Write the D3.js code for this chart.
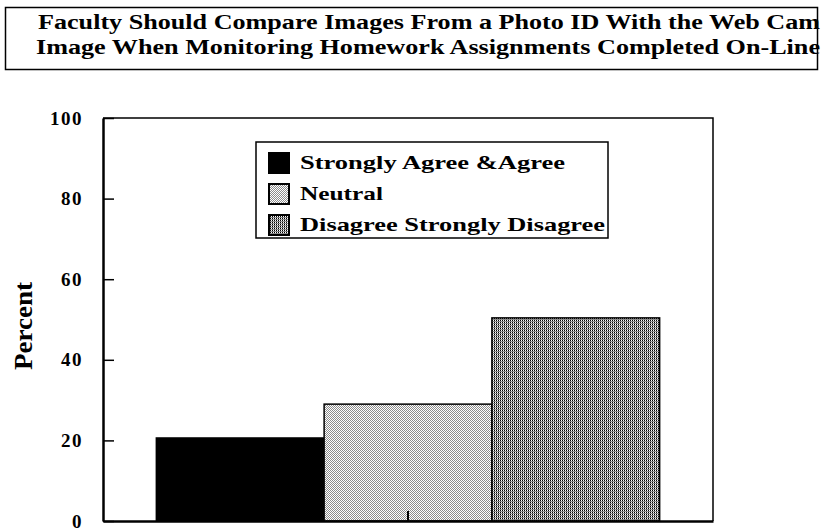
<!DOCTYPE html>
<html>
<head>
<meta charset="utf-8">
<script src="https://cdn.jsdelivr.net/npm/d3@7"></script>
<style>
  html, body { margin: 0; padding: 0; background: #fff; }
  svg { display: block; font-family: "Liberation Serif", "Times New Roman", serif; font-weight: bold; }
</style>
</head>
<body>
<svg id="chart" width="823" height="529"></svg>
<script>
// Survey responses (percent of respondents)
const categories = [""];
const seriesNames = ["Strongly Agree &Agree", "Neutral", "Disagree Strongly Disagree"];
const seriesValues = [20.6, 29.0, 50.4];
const yTicks = [0, 20, 40, 60, 80, 100];
const titleLines = [
  "Faculty Should Compare Images From a Photo ID With the Web Cam",
  "Image When Monitoring Homework Assignments Completed On-Line"
];

const svg = d3.select("#chart");
const defs = svg.append("defs");

// Dither fills for the shaded bars
const light = defs.append("pattern").attr("id", "pat-neutral")
  .attr("patternUnits", "userSpaceOnUse").attr("width", 2).attr("height", 2);
light.append("rect").attr("width", 2).attr("height", 2).attr("fill", "#fff");
light.append("rect").attr("x", 0).attr("y", 0).attr("width", 1).attr("height", 1).attr("fill", "#8c8c8c");
light.append("rect").attr("x", 1).attr("y", 1).attr("width", 1).attr("height", 1).attr("fill", "#8c8c8c");

const dark = defs.append("pattern").attr("id", "pat-disagree")
  .attr("patternUnits", "userSpaceOnUse").attr("width", 2).attr("height", 2);
dark.append("rect").attr("width", 2).attr("height", 2).attr("fill", "#fff");
dark.append("rect").attr("x", 0).attr("y", 0).attr("width", 1).attr("height", 1).attr("fill", "#000");
dark.append("rect").attr("x", 0).attr("y", 1).attr("width", 2).attr("height", 1).attr("fill", "#8a8a8a");

const fills = ["#000", "url(#pat-neutral)", "url(#pat-disagree)"];

// Title box
svg.append("rect")
  .attr("x", 5.5).attr("y", 7.5).attr("width", 812).attr("height", 62)
  .attr("fill", "none").attr("stroke", "#000").attr("stroke-width", 1.5);
const titleX = [38, 36];
const titleLen = [782, 784];
svg.selectAll("text.title").data(titleLines).join("text")
  .attr("class", "title")
  .attr("x", (d, i) => titleX[i])
  .attr("y", (d, i) => 29 + i * 25)
  .attr("font-size", 20)
  .attr("textLength", (d, i) => titleLen[i])
  .attr("lengthAdjust", "spacingAndGlyphs")
  .text(d => d);

// Plot area
const plot = { left: 103, right: 713, top: 118, bottom: 521 };

const y = d3.scaleLinear().domain([0, 100]).range([plot.bottom, plot.top]);
const x0 = d3.scaleBand().domain(categories)
  .range([plot.left, plot.right]).paddingInner(0).paddingOuter(0.106);
const x1 = d3.scaleBand().domain(seriesNames)
  .range([0, x0.bandwidth()]).padding(0);

// Bars
const g = svg.append("g");
categories.forEach(cat => {
  g.selectAll("rect.bar").data(seriesValues).join("rect")
    .attr("class", "bar")
    .attr("x", (d, i) => x0(cat) + x1(seriesNames[i]))
    .attr("y", d => y(d))
    .attr("width", x1.bandwidth())
    .attr("height", d => y(0) - y(d))
    .attr("fill", (d, i) => fills[i])
    .attr("stroke", "#000")
    .attr("stroke-width", 1.5);
});

// Frame top and right
svg.append("path")
  .attr("d", `M${plot.left},${plot.top}H${plot.right}V${plot.bottom}`)
  .attr("fill", "none").attr("stroke", "#000").attr("stroke-width", 1.5);

// Y axis with inward ticks
const yAxis = svg.append("g")
  .attr("transform", `translate(${plot.left},0)`)
  .call(d3.axisLeft(y).tickValues(yTicks).tickSizeInner(-11).tickSizeOuter(0).tickPadding(20));
yAxis.select(".domain").attr("stroke-width", 2.5);
yAxis.selectAll(".tick line").attr("stroke-width", 1.5);
yAxis.selectAll(".tick text")
  .attr("font-family", "Liberation Serif, serif")
  .attr("font-weight", "bold")
  .attr("font-size", 19)
  .attr("letter-spacing", 1.5)
  .attr("fill", "#000");

// X axis with a single centred inward tick
const xAxis = svg.append("g")
  .attr("transform", `translate(0,${plot.bottom})`)
  .call(d3.axisBottom(x0).tickSizeInner(-10).tickSizeOuter(0).tickFormat(() => ""));
xAxis.select(".domain").attr("stroke-width", 2.5);
xAxis.selectAll(".tick line").attr("stroke-width", 2);

// Y axis title
svg.append("text")
  .attr("transform", "translate(32,326) rotate(-90)")
  .attr("text-anchor", "middle")
  .attr("font-size", 25)
  .attr("textLength", 88)
  .attr("lengthAdjust", "spacingAndGlyphs")
  .text("Percent");

// Legend
const legend = svg.append("g");
legend.append("rect")
  .attr("x", 256).attr("y", 142).attr("width", 352).attr("height", 96)
  .attr("fill", "#fff").attr("stroke", "#000").attr("stroke-width", 1.5);
const legendLen = [265, 83, 305];
const items = legend.selectAll("g.item").data(seriesNames).join("g")
  .attr("class", "item")
  .attr("transform", (d, i) => `translate(0,${i * 31})`);
items.append("rect")
  .attr("x", 269).attr("y", 153).attr("width", 20).attr("height", 20)
  .attr("fill", (d, i) => fills[i])
  .attr("stroke", "#000").attr("stroke-width", 2);
items.append("text")
  .attr("x", 300).attr("y", 169)
  .attr("font-size", 19)
  .attr("textLength", (d, i) => legendLen[i])
  .attr("lengthAdjust", "spacingAndGlyphs")
  .text(d => d);
</script>
</body>
</html>
